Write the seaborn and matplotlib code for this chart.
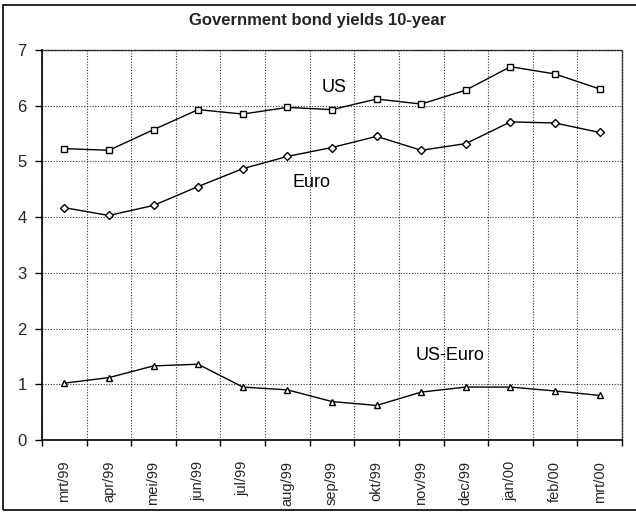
import matplotlib
matplotlib.use('Agg')
import matplotlib.pyplot as plt
import numpy as np
import pandas as pd
import seaborn as sns
from matplotlib.patches import Rectangle

sns.set_theme(style='white')
plt.rcParams['font.family'] = ['Liberation Sans', 'DejaVu Sans']

months = ['mrt/99', 'apr/99', 'mei/99', 'jun/99', 'jul/99', 'aug/99', 'sep/99',
          'okt/99', 'nov/99', 'dec/99', 'jan/00', 'feb/00', 'mrt/00']
us = [5.23, 5.20, 5.57, 5.93, 5.85, 5.97, 5.93, 6.12, 6.03, 6.28, 6.70, 6.57, 6.30]
euro = [4.17, 4.03, 4.21, 4.55, 4.87, 5.09, 5.25, 5.45, 5.20, 5.32, 5.71, 5.69, 5.52]
spread = [1.02, 1.12, 1.33, 1.36, 0.95, 0.90, 0.69, 0.62, 0.86, 0.95, 0.95, 0.88, 0.80]

df = pd.DataFrame({'maand': months, 'US': us, 'Euro': euro, 'US-Euro': spread})

fig = plt.figure(figsize=(6.36, 5.13), dpi=100)
ax = fig.add_axes([42/636, 1-440/513, (622-42)/636, (440-50)/513])

mk = {'US': 's', 'Euro': 'D', 'US-Euro': '^'}
ms = {'US': 4.2, 'Euro': 4.2, 'US-Euro': 4.8}
for col in ['US', 'Euro', 'US-Euro']:
    sns.lineplot(data=df, x='maand', y=col, ax=ax, color='black', linewidth=1,
                 marker=mk[col], markersize=ms[col], markerfacecolor='white',
                 markeredgecolor='black', markeredgewidth=1, sort=False)

ax.set_xlim(-0.5, len(months) - 0.5)
ax.set_ylim(0, 7)
ax.set_yticks(range(0, 8))
ax.set_xticks(range(len(months)))
ax.set_xticklabels(months, rotation=90, fontsize=10.5)
ax.set_xticks(np.arange(-0.5, len(months)), minor=True)
ax.tick_params(axis='x', which='major', length=0, pad=15)
ax.tick_params(axis='x', which='minor', length=4, width=1, color='black', direction='out')
ax.tick_params(axis='y', length=5, width=1, color='black', direction='out', labelsize=12, pad=6)
ax.yaxis.set_ticks_position('left')
ax.xaxis.set_ticks_position('bottom')

ax.grid(False)
ax.grid(axis='y', which='major', linestyle=(0, (1, 1.5)), color='#333333', linewidth=0.8)
ax.grid(axis='x', which='minor', linestyle=(0, (1, 1.5)), color='#333333', linewidth=0.8)

for s in ['top', 'right']:
    ax.spines[s].set_linestyle((0, (1, 1.2)))
    ax.spines[s].set_color('#222222')
    ax.spines[s].set_linewidth(1)
for s in ['left', 'bottom']:
    ax.spines[s].set_color('black')
    ax.spines[s].set_linewidth(1.2)

ax.set_xlabel('')
ax.set_ylabel('')

ax.text(6.05, 6.33, 'US', fontsize=13, ha='center', va='center', color='black')
ax.text(5.55, 4.62, 'Euro', fontsize=13, ha='center', va='center', color='black')
ax.text(8.65, 1.52, 'US-Euro', fontsize=13, ha='center', va='center', color='black')

fig.text(0.5, 1-20/513, 'Government bond yields 10-year', fontsize=12, fontweight='bold',
         ha='center', va='center')

fig.patches.append(Rectangle((3/636, 3/513), 1.0, 1-8/513, transform=fig.transFigure,
                             fill=False, edgecolor='black', linewidth=1.2))

plt.savefig('out.png', dpi=100)
